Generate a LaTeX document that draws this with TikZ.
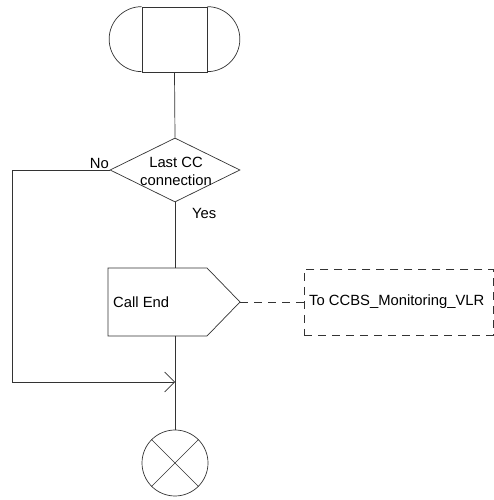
\documentclass[tikz,border=0pt]{standalone}
\usepackage{fontspec}
\setmainfont{Liberation Sans}
\usetikzlibrary{shapes.geometric,arrows.meta}
\begin{document}
\begin{tikzpicture}[x=1pt,y=1pt,
  ln/.style={line width=0.7pt,draw=black!80},
  txt/.style={inner sep=0pt,font=\fontsize{14.8}{18}\selectfont},
  dsh/.style={ln,dash pattern=on 8pt off 6pt}]
\useasboundingbox (0,0) rectangle (494,500);
% start symbol
\node[ln,rectangle,minimum width=65pt,minimum height=65pt,inner sep=0pt] (st) at (174.5,460.5) {};
\draw[ln] (st.north west) arc[start angle=90,end angle=270,radius=32.5pt];
\draw[ln] (st.north east) arc[start angle=90,end angle=-90,radius=32.5pt];
% decision
\node[ln,diamond,minimum width=130pt,minimum height=64pt,inner sep=0pt] (dec) at (175,330) {};
\node[txt,align=center] (dect) at (176,329) {Last CC\\connection};
\node[txt,anchor=base east] (no) at (109,331) {No};
\node[txt,anchor=west] (yes) at (192,287) {Yes};
% output signal
\coordinate (otl) at (108,232);
\coordinate (otr) at (207,232);
\coordinate (otip) at (240,198);
\coordinate (obr) at (207,164);
\coordinate (obl) at (108,164);
\coordinate (otop) at (175,232);
\coordinate (obot) at (175,164);
\draw[ln] (otl) -- (otr) -- (otip) -- (obr) -- (obl) -- cycle;
\node[txt,anchor=west] (ce) at (113,198) {Call End};
% dashed comment
\node[dsh,rectangle,minimum width=189pt,minimum height=66pt,inner sep=0pt,anchor=west] (cm) at (304,198) {};
\node[txt,anchor=west] (cmt) at (309,198) {To CCBS\_Monitoring\_VLR};
\draw[dsh] (otip) -- (cm.west);
% stop
\node[ln,circle,minimum size=66pt,inner sep=0pt] (stop) at (175,37) {};
\draw[ln] (stop.north west) -- (stop.south east);
\draw[ln] (stop.north east) -- (stop.south west);
% connectors
\coordinate (c1) at (12,330);
\coordinate (c2) at (12,118);
\coordinate (c3) at (175,118);
\draw[ln] (st.south) -- (dec.north);
\draw[ln] (dec.south) -- (otop);
\draw[ln] (obot) -- (stop.north);
\draw[ln,-{Straight Barb[length=10pt,width=20pt]}] (dec.west) -- (c1) -- (c2) -- (c3);
\end{tikzpicture}
\end{document}
